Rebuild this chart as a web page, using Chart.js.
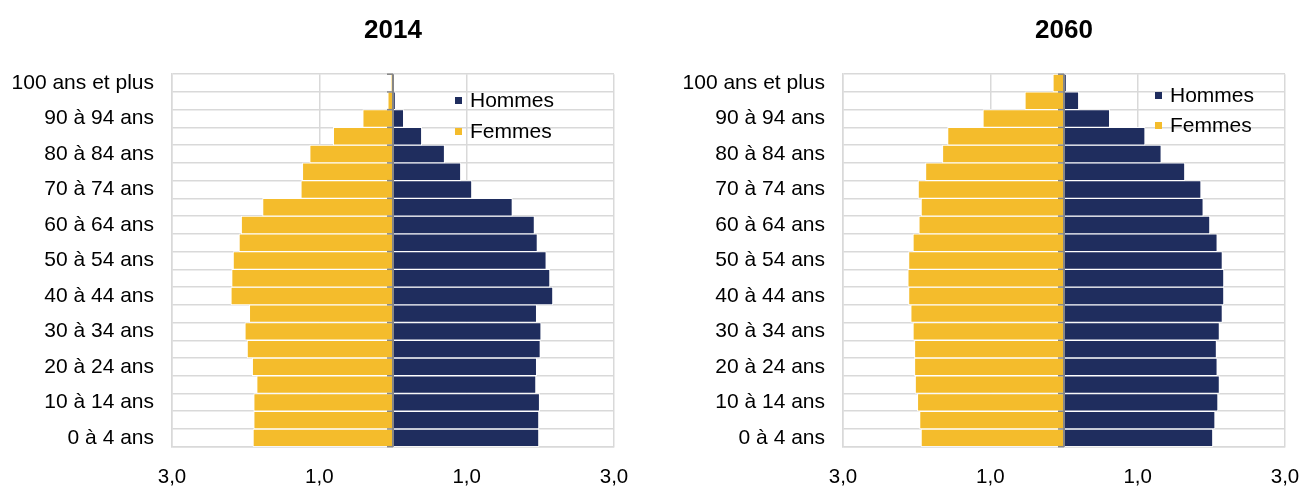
<!DOCTYPE html>
<html lang="fr">
<head>
<meta charset="utf-8">
<title>Pyramide des âges 2014 / 2060</title>
<script src="https://cdn.jsdelivr.net/npm/chart.js@4/dist/chart.umd.min.js"></script>
<style>
  body { margin: 0; background: #fff; }
  #wrap { position: relative; width: 1306px; height: 486px; overflow: hidden; }
  canvas { position: absolute; top: 0; }
  #c2014 { left: 0; }
  #c2060 { left: 653px; }
  .legend { position: absolute; font: 21px 'Liberation Sans', Arial, sans-serif; color: #000; }
  .legend div { position: relative; height: 31px; line-height: 24px; white-space: nowrap; }
  .legend span.box { position: absolute; left: 0; top: 9px; width: 7px; height: 7px; }
  .legend span.txt { position: absolute; left: 15px; top: 0; }
  #leg2014 { left: 455px; top: 88px; }
  #leg2060 { left: 1155px; top: 83px; }
  #leg2060 div { height: 30px; }
</style>
</head>
<body>
<div id="wrap">
  <canvas id="c2014" width="653" height="486"></canvas>
  <canvas id="c2060" width="653" height="486"></canvas>
  <div id="leg2014" class="legend"></div>
  <div id="leg2060" class="legend"></div>
</div>
<script>
// age groups, bottom to top
const ageGroups = [
  '0 à 4 ans', '5 à 9 ans', '10 à 14 ans', '15 à 19 ans', '20 à 24 ans',
  '25 à 29 ans', '30 à 34 ans', '35 à 39 ans', '40 à 44 ans', '45 à 49 ans',
  '50 à 54 ans', '55 à 59 ans', '60 à 64 ans', '65 à 69 ans', '70 à 74 ans',
  '75 à 79 ans', '80 à 84 ans', '85 à 89 ans', '90 à 94 ans', '95 à 99 ans',
  '100 ans et plus'
];

// share of total population (%)
const hommes2014 = [1.98, 1.98, 1.99, 1.94, 1.95, 2.00, 2.01, 1.95, 2.17, 2.13, 2.08, 1.96, 1.92, 1.62, 1.07, 0.92, 0.70, 0.39, 0.145, 0.03, 0.005];
const femmes2014 = [1.90, 1.89, 1.89, 1.85, 1.91, 1.98, 2.01, 1.95, 2.20, 2.19, 2.17, 2.09, 2.06, 1.77, 1.25, 1.23, 1.13, 0.81, 0.41, 0.07, 0.02];
const hommes2060 = [2.02, 2.05, 2.09, 2.11, 2.08, 2.07, 2.11, 2.15, 2.17, 2.17, 2.15, 2.08, 1.98, 1.89, 1.86, 1.64, 1.32, 1.10, 0.62, 0.20, 0.03];
const femmes2060 = [1.94, 1.96, 1.99, 2.02, 2.03, 2.03, 2.05, 2.08, 2.11, 2.12, 2.11, 2.05, 1.97, 1.94, 1.98, 1.88, 1.65, 1.58, 1.10, 0.53, 0.15];

const axisMin = -3, axisMax = 3;

const NAVY = '#1f2d5e';
const YELLOW = '#f4bc2c';
const GRID = '#d9d9d9';
const AXIS = '#868686';

Chart.defaults.font.family = "'Liberation Sans', Arial, sans-serif";
Chart.defaults.color = '#000';

// vertical category axis in the middle, drawn over the bars like Excel does
const centerAxis = {
  id: 'centerAxis',
  afterDatasetsDraw(chart) {
    const { ctx, chartArea, scales: { x, y } } = chart;
    const x0 = x.getPixelForValue(0);
    ctx.save();
    ctx.strokeStyle = AXIS;
    ctx.lineWidth = 2;
    ctx.beginPath();
    ctx.moveTo(x0, chartArea.top);
    ctx.lineTo(x0, chartArea.bottom);
    ctx.stroke();
    // small tick marks at the category boundaries
    ctx.lineWidth = 1.5;
    const n = y.getLabels().length;
    const step = y.getPixelForValue(0) - y.getPixelForValue(1);
    for (let i = 0; i <= n; i++) {
      const yy = y.getPixelForValue(0) + step / 2 - i * step;
      ctx.beginPath();
      ctx.moveTo(x0 - 6, yy);
      ctx.lineTo(x0, yy);
      ctx.stroke();
    }
    ctx.restore();
  }
};

function fmt(v) {
  return Math.abs(v).toFixed(1).replace('.', ',');
}

function makePyramid(id, title, hommes, femmes, pad, yWidth) {
  return new Chart(document.getElementById(id), {
    type: 'bar',
    data: {
      labels: ageGroups,
      datasets: [
        { label: 'Hommes', data: hommes, backgroundColor: NAVY, borderColor: '#fff', borderWidth: 1 },
        { label: 'Femmes', data: femmes.map(v => -v), backgroundColor: YELLOW, borderColor: '#fff', borderWidth: 1 }
      ]
    },
    options: {
      indexAxis: 'y',
      responsive: false,
      animation: false,
      layout: { padding: pad },
      plugins: {
        legend: { display: false },
        tooltip: { enabled: false },
        title: {
          display: true,
          text: title,
          fullSize: false,
          font: { size: 26, weight: 'bold' },
          color: '#000',
          padding: { top: 15, bottom: 28 }
        }
      },
      datasets: { bar: { barPercentage: 1, categoryPercentage: 1 } },
      scales: {
        x: {
          stacked: true,
          min: axisMin,
          max: axisMax,
          border: { display: true, color: GRID, width: 1.5 },
          grid: {
            drawTicks: false,
            lineWidth: 1.5,
            color: c => (Math.abs(c.tick.value) % 2 === 1 ? GRID : 'rgba(0,0,0,0)')
          },
          ticks: {
            stepSize: 1,
            autoSkip: false,
            maxRotation: 0,
            padding: 18,
            font: { size: 20.5 },
            callback: v => (Math.abs(v) % 2 === 1 ? fmt(v) : '')
          },
          afterFit: s => { s.height = 39.3; s.paddingLeft = 0; s.paddingRight = 0; }
        },
        y: {
          stacked: true,
          reverse: true,
          border: { display: true, color: GRID, width: 1.5 },
          grid: { drawTicks: false, lineWidth: 1.5, color: GRID, offset: true },
          ticks: {
            autoSkip: false,
            padding: 18,
            font: { size: 21 },
            callback: function (v, i) { return i % 2 === 0 ? this.getLabelForValue(v) : ''; }
          },
          afterFit: s => { s.width = yWidth; }
        }
      }
    },
    plugins: [centerAxis]
  });
}

function buildLegend(chart, id) {
  const el = document.getElementById(id);
  chart.data.datasets.forEach(ds => {
    const row = document.createElement('div');
    row.innerHTML = '<span class="box" style="background:' + ds.backgroundColor + '"></span><span class="txt">' + ds.label + '</span>';
    el.appendChild(row);
  });
}

const chart2014 = makePyramid('c2014', '2014', hommes2014, femmes2014, { left: 10, right: 39, top: 0, bottom: 0 }, 162);
const chart2060 = makePyramid('c2060', '2060', hommes2060, femmes2060, { left: 29, right: 21, top: 0, bottom: 0 }, 161);
buildLegend(chart2014, 'leg2014');
buildLegend(chart2060, 'leg2060');
</script>
</body>
</html>
